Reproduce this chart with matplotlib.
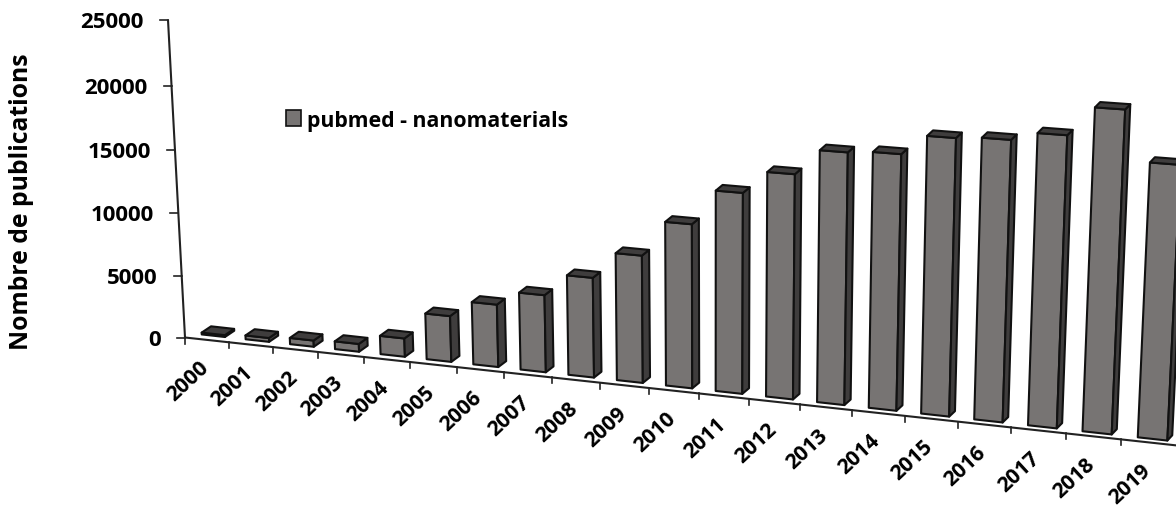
"""Histogramme pseudo-3D : publications PubMed sur les nanomatériaux par année."""

import matplotlib
matplotlib.use("Agg")
import matplotlib.pyplot as plt
from matplotlib.patches import Patch, Polygon

# ============================================================
# DONNÉES
# ============================================================
ANNEES = [2000, 2001, 2002, 2003, 2004, 2005, 2006, 2007, 2008, 2009,
          2010, 2011, 2012, 2013, 2014, 2015, 2016, 2017, 2018, 2019]
PUBLICATIONS = [150, 310, 500, 620, 1450, 3590, 4860, 5960, 7650, 9680,
                12360, 14990, 16660, 18530, 18700, 20130, 20290, 20900, 22950, 19450]
GRADUATIONS = [0, 5000, 10000, 15000, 20000, 25000]

LEGENDE = "pubmed - nanomaterials"
TITRE_Y = "Nombre de publications"

FACE = "#777473"
COTE = "#3f3d3d"
POLICE = "Open Sans"


def projeter(i, v, d=0.0):
    """Perspective : i = position sur l'axe des années, v = valeur, d = profondeur."""
    w = 1 - 0.006 * i - 1.258e-6 * v
    x = (185 + 42.54 * i - 0.00089 * v) / w
    y = (338.5 + 2.72 * i - 0.012708 * v) / w
    return x + d * (9 - 0.22 * i), y - d * (6 - 0.05 * i)


def dessiner_barre(ax, i, v):
    g, r = i + 0.24, i + 0.77
    d0, d1 = 0.7, 1.75
    faces = [
        ([(g, 0, d0), (r, 0, d0), (r, v, d0), (g, v, d0)], FACE),
        ([(r, 0, d0), (r, 0, d1), (r, v, d1), (r, v, d0)], COTE),
        ([(g, v, d0), (r, v, d0), (r, v, d1), (g, v, d1)], COTE),
    ]
    for coins, couleur in faces:
        ax.add_patch(Polygon([projeter(*c) for c in coins], closed=True,
                             facecolor=couleur, edgecolor="#111111",
                             linewidth=1.5, joinstyle="round"))


def main():
    plt.rcParams["font.family"] = [POLICE, "DejaVu Sans"]
    fig = plt.figure(figsize=(11.76, 5.06), dpi=100)
    ax = fig.add_axes([0, 0, 1, 1])
    ax.set_xlim(0, 1176)
    ax.set_ylim(506, 0)
    ax.axis("off")

    # axes
    x0, y0 = projeter(0, 0)
    x1, y1 = projeter(0, GRADUATIONS[-1])
    ax.plot([x0, x1], [y0, y1], color="#222222", lw=1.5)
    x2, y2 = projeter(len(ANNEES) + 0.1, 0)
    ax.plot([x0, x2], [y0, y2], color="#222222", lw=1.5)

    for v in GRADUATIONS:
        x, y = projeter(0, v)
        ax.plot([x - 8, x], [y, y], color="#222222", lw=1.2)
        ax.text(x - 24, y + 1.5, str(v), ha="right", va="center",
                fontsize=16, fontweight="bold")

    for i, annee in enumerate(ANNEES):
        x, y = projeter(i, 0)
        ax.plot([x, x], [y, y + 6], color="#222222", lw=1.2)
        xc, yc = projeter(i + 0.5, 0)
        ax.text(xc - 19, yc + 41, str(annee), rotation=43, ha="center", va="center",
                rotation_mode="anchor", fontsize=15.2, fontweight="bold")

    for i, v in enumerate(PUBLICATIONS):
        dessiner_barre(ax, i, v)

    ax.text(22, 202, TITRE_Y, rotation=90, ha="center", va="center",
            fontsize=17.8, fontweight="bold")

    poignee = Patch(facecolor=FACE, edgecolor="#111111", linewidth=1.2, label=LEGENDE)
    ax.legend(handles=[poignee], loc="center left", bbox_to_anchor=(286, 121),
              bbox_transform=ax.transData, frameon=False, handlelength=0.72,
              handleheight=0.72, handletextpad=0.28, borderpad=0, borderaxespad=0,
              prop={"family": POLICE, "weight": "bold", "size": 15.3})

    fig.savefig("out.png", dpi=100)
    plt.close(fig)


if __name__ == "__main__":
    main()
